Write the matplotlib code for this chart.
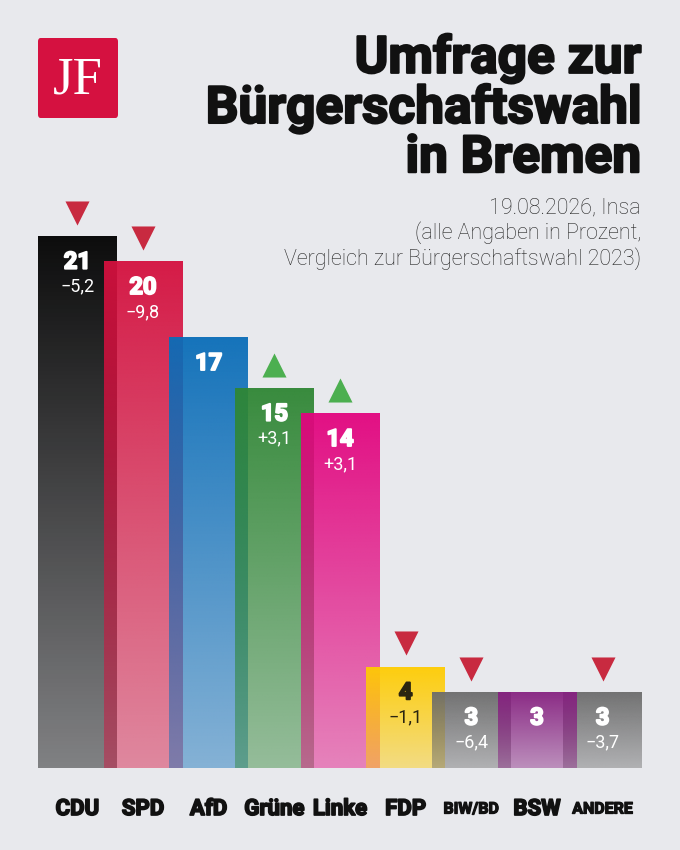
import numpy as np
import matplotlib
matplotlib.use("Agg")
import matplotlib.pyplot as plt
import matplotlib.patheffects as pe
from matplotlib.colors import to_rgb
from matplotlib.patches import FancyBboxPatch

parties = ["CDU", "SPD", "AfD", "Grüne", "Linke", "FDP", "BIW/BD", "BSW", "ANDERE"]
values = [21, 20, 17, 15, 14, 4, 3, 3, 3]
changes = ["−5,2", "−9,8", "", "+3,1", "+3,1", "−1,1", "−6,4", "", "−3,7"]
trend = [-1, -1, 0, 1, 1, -1, -1, 0, -1]
colors = ["#000000", "#d4103e", "#0a6db8", "#2f8634", "#e2047e",
          "#ffcc00", "#6c6c6c", "#862180", "#6c6c6c"]

BG = "#e8e9ed"
W = 1.2  # bar width in slot units, bars overlap a little


def heavy(col, lw=1.2):
    # fake a black weight by stroking the glyphs in their own colour
    return [pe.withStroke(linewidth=lw, foreground=col)]


fig = plt.figure(figsize=(6.8, 8.5), dpi=100, facecolor=BG)

# chart axes: left edge of first bar at px 38, right edge of last at px 642,
# baseline at px 768
ax = fig.add_axes([38 / 680, 82 / 850, 604 / 680, 600 / 850])
ax.set_facecolor("none")
ax.set_axis_off()

# alpha fades from top to bottom of each bar
alpha = np.linspace(0.95, 0.45, 256)[:, None]

for i, (v, c) in enumerate(zip(values, colors)):
    z = 2 + i
    if parties[i] == "ANDERE":
        z = 2 + i - 2  # BSW sits on top of it
    bar = ax.bar(i, v, width=W, color="none", zorder=z)[0]
    rgba = np.zeros((256, 1, 4))
    rgba[..., :3] = to_rgb(c)
    rgba[..., 3] = alpha
    im = ax.imshow(rgba, extent=[i - W / 2, i + W / 2, 0, v], aspect="auto",
                   interpolation="bilinear", zorder=z)
    im.set_clip_path(bar)

    txt_col = "#2a2410" if parties[i] == "FDP" else "white"
    ax.text(i, v - 1.03, str(v), ha="center", va="center", color=txt_col,
            fontsize=17, fontweight="bold", family="Roboto", zorder=20,
            path_effects=heavy(txt_col, 1.4))
    if changes[i]:
        ax.text(i, v - 2.0, changes[i], ha="center", va="center",
                color=txt_col, fontsize=13, fontweight="normal",
                family="Roboto", zorder=20)
    if trend[i] != 0:
        ax.scatter(i, v + 0.92, marker="v" if trend[i] < 0 else "^", s=300,
                   color="#c82a40" if trend[i] < 0 else "#4caf50",
                   linewidths=0, zorder=25)

    small = parties[i] in ("BIW/BD", "ANDERE")
    ax.text(i, -1.62, parties[i], ha="center", va="center", color="#111111",
            fontsize=11.5 if small else 16, fontweight="bold", family="Roboto",
            clip_on=False, path_effects=heavy("#111111", 0.9 if small else 1.2))

ax.set_xlim(-W / 2, len(values) - 1 + W / 2)
ax.set_ylim(0, 600 / 25.33)

# logo
fig.patches.append(FancyBboxPatch((38 / 680, 1 - 118 / 850), 80 / 680, 80 / 850,
                                  boxstyle="round,pad=0,rounding_size=0.004",
                                  transform=fig.transFigure, facecolor="#d51140",
                                  edgecolor="none"))
fig.text(78 / 680, 1 - 80 / 850, "JF", ha="center", va="center", color="white",
         fontsize=38, family="Liberation Serif")

# title and subtitle
fig.text(641 / 680, 1 - 108 / 850, "Umfrage zur\nBürgerschaftswahl\nin Bremen",
         ha="right", va="center", color="#111111", fontsize=37,
         fontweight="bold", family="Roboto", linespacing=0.98,
         path_effects=heavy("#111111", 1.6))
fig.text(641 / 680, 1 - 234 / 850,
         "19.08.2026, Insa\n(alle Angaben in Prozent,\nVergleich zur Bürgerschaftswahl 2023)",
         ha="right", va="center", color="#262626", fontsize=15.5,
         fontweight="light", family="Roboto", linespacing=1.17)

fig.savefig("out.png", dpi=100, facecolor=BG)
